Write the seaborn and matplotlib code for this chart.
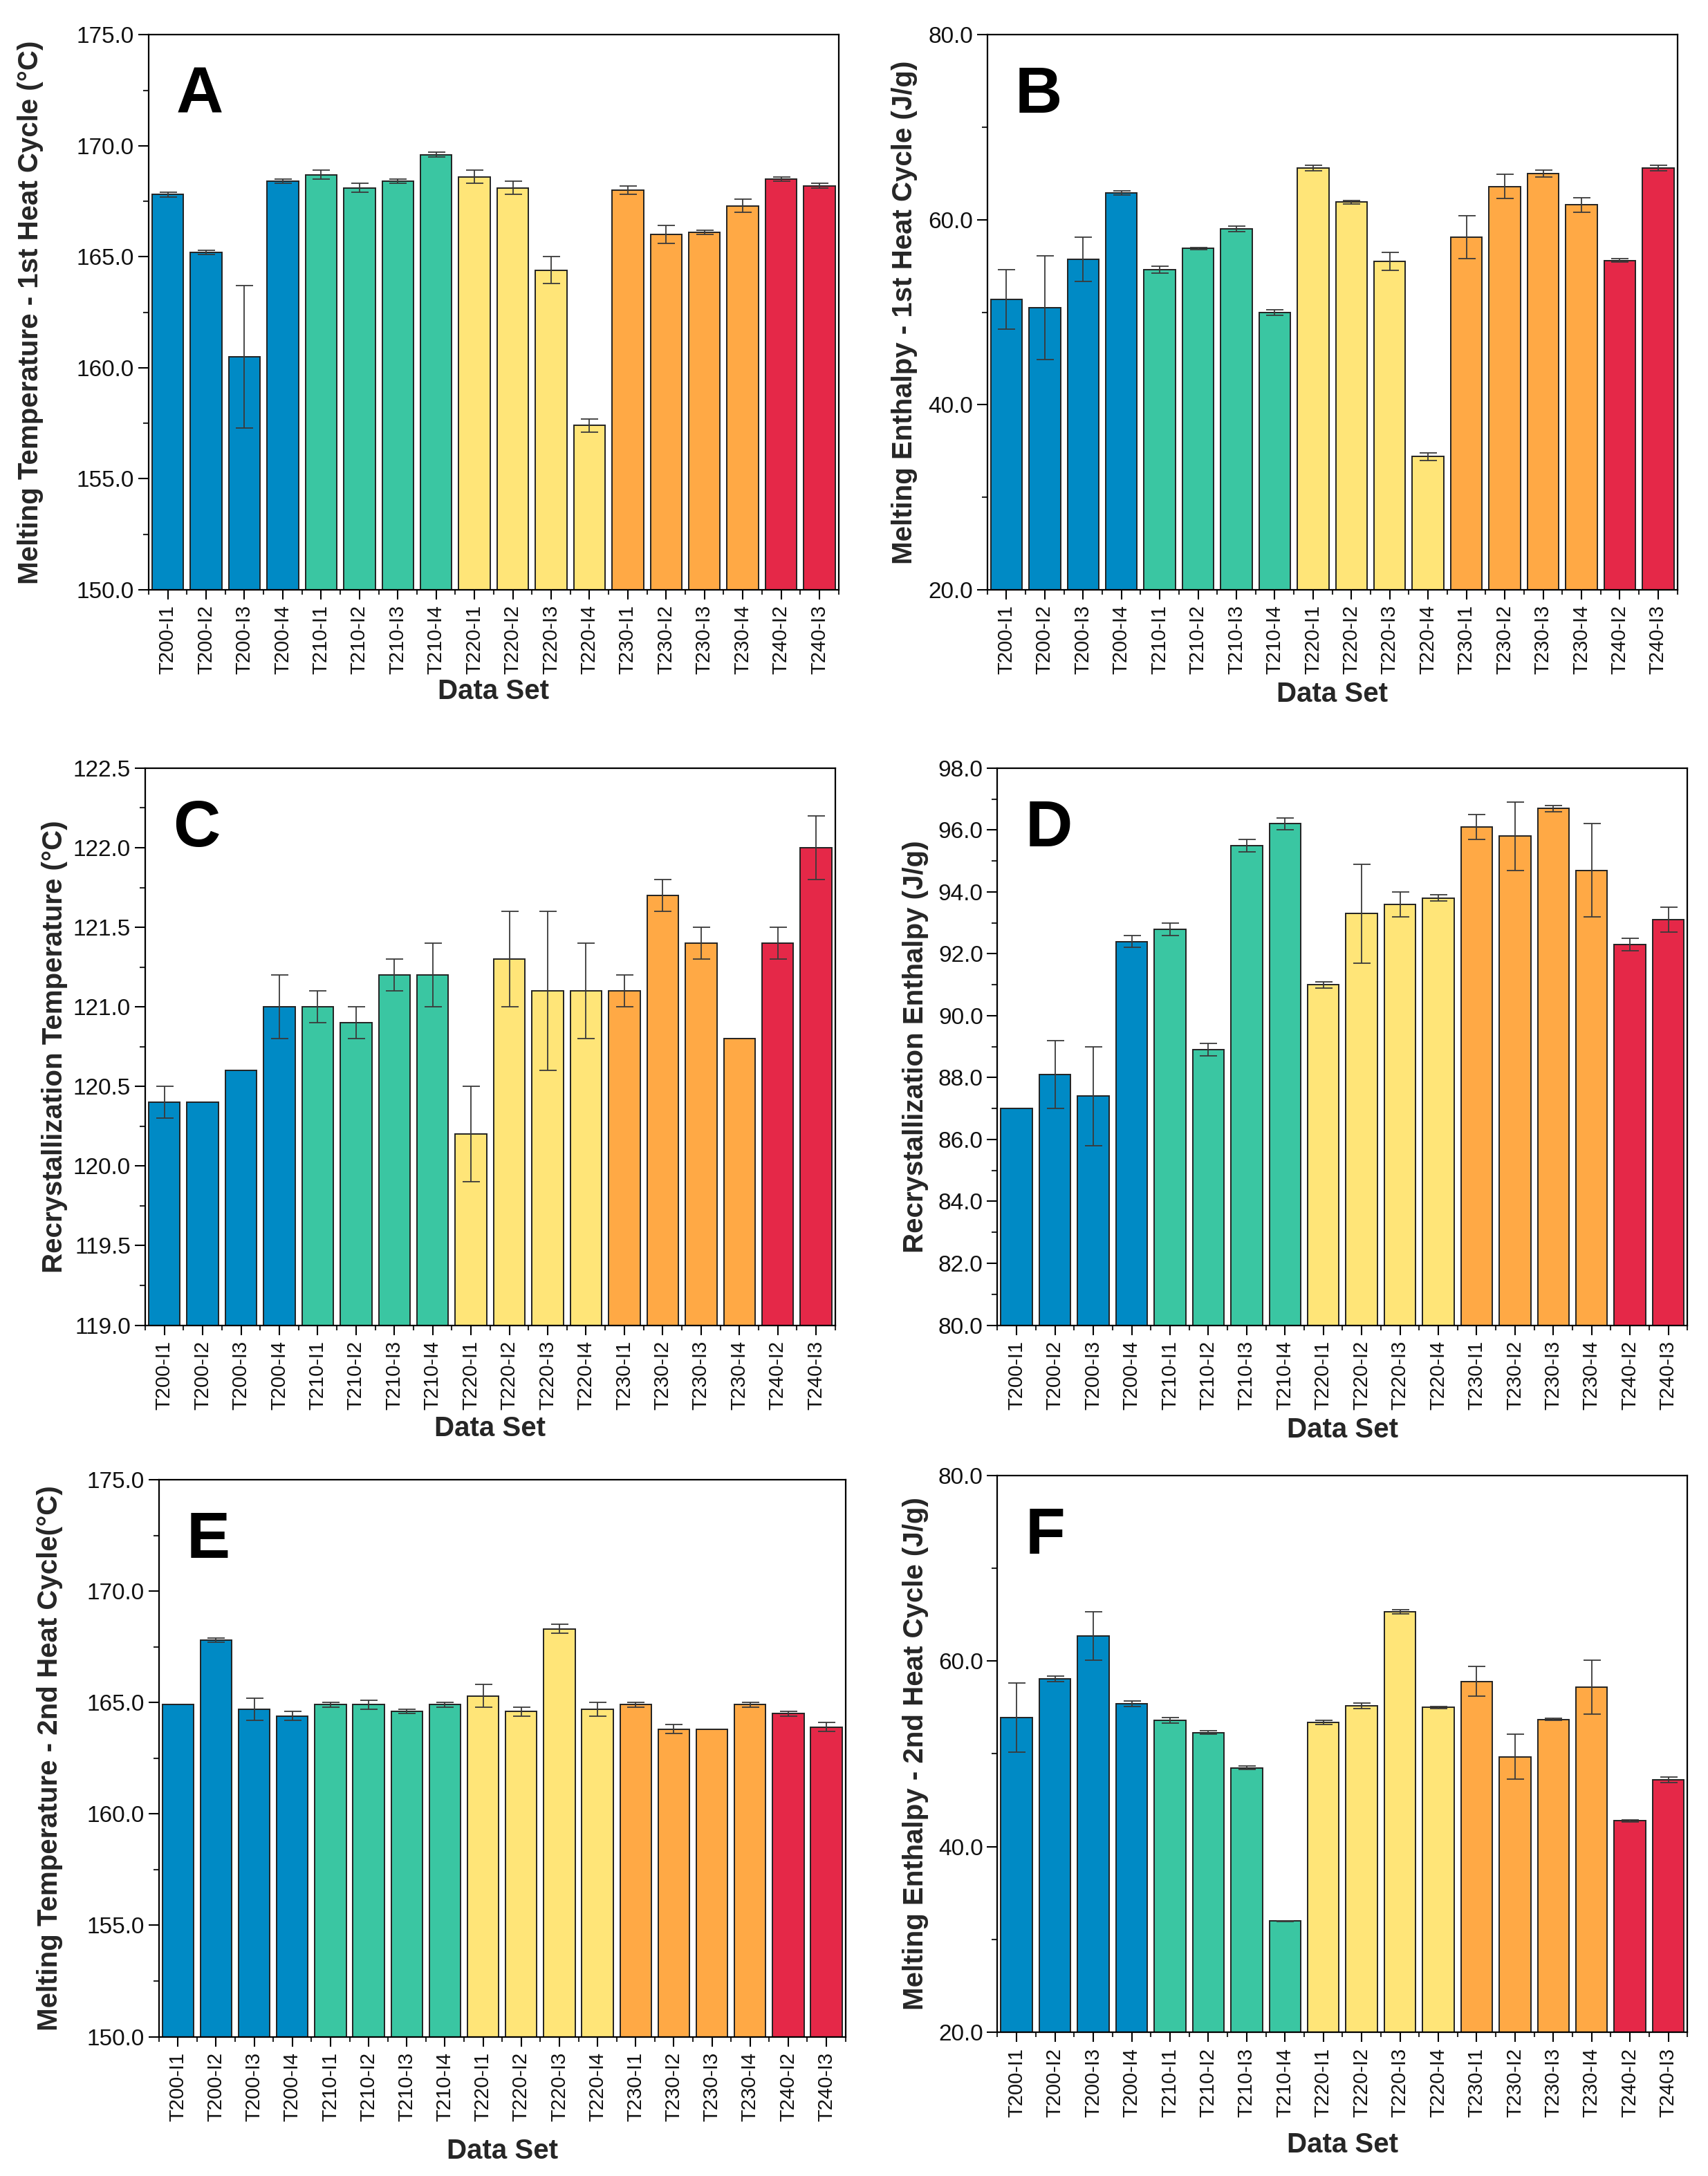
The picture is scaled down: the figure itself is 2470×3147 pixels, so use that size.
import numpy as np
import pandas as pd
import matplotlib
matplotlib.use("Agg")
import matplotlib.pyplot as plt
from matplotlib.ticker import MultipleLocator, FormatStrFormatter
import seaborn as sns

samples = ["T200-I1", "T200-I2", "T200-I3", "T200-I4",
           "T210-I1", "T210-I2", "T210-I3", "T210-I4",
           "T220-I1", "T220-I2", "T220-I3", "T220-I4",
           "T230-I1", "T230-I2", "T230-I3", "T230-I4",
           "T240-I2", "T240-I3"]
groups = [s.split("-")[0] for s in samples]

tm1 = [167.8, 165.2, 160.5, 168.4, 168.7, 168.1, 168.4, 169.6, 168.6, 168.1,
       164.4, 157.4, 168.0, 166.0, 166.1, 167.3, 168.5, 168.2]
tm1_err = [0.1, 0.1, 3.2, 0.1, 0.2, 0.2, 0.1, 0.1, 0.3, 0.3,
           0.6, 0.3, 0.2, 0.4, 0.1, 0.3, 0.1, 0.1]

hm1 = [51.4, 50.5, 55.7, 62.9, 54.6, 56.9, 59.0, 50.0, 65.6, 61.9,
       55.5, 34.4, 58.1, 63.6, 65.0, 61.6, 55.6, 65.6]
hm1_err = [3.2, 5.6, 2.4, 0.2, 0.4, 0.1, 0.3, 0.3, 0.3, 0.2,
           1.0, 0.4, 2.3, 1.3, 0.4, 0.8, 0.2, 0.3]

tc = [120.4, 120.4, 120.6, 121.0, 121.0, 120.9, 121.2, 121.2, 120.2, 121.3,
      121.1, 121.1, 121.1, 121.7, 121.4, 120.8, 121.4, 122.0]
tc_err = [0.1, 0.0, 0.0, 0.2, 0.1, 0.1, 0.1, 0.2, 0.3, 0.3,
          0.5, 0.3, 0.1, 0.1, 0.1, 0.0, 0.1, 0.2]

hc = [87.0, 88.1, 87.4, 92.4, 92.8, 88.9, 95.5, 96.2, 91.0, 93.3,
      93.6, 93.8, 96.1, 95.8, 96.7, 94.7, 92.3, 93.1]
hc_err = [0.0, 1.1, 1.6, 0.2, 0.2, 0.2, 0.2, 0.2, 0.1, 1.6,
          0.4, 0.1, 0.4, 1.1, 0.1, 1.5, 0.2, 0.4]

tm2 = [164.9, 167.8, 164.7, 164.4, 164.9, 164.9, 164.6, 164.9, 165.3, 164.6,
       168.3, 164.7, 164.9, 163.8, 163.8, 164.9, 164.5, 163.9]
tm2_err = [0.0, 0.1, 0.5, 0.2, 0.1, 0.2, 0.1, 0.1, 0.5, 0.2,
           0.2, 0.3, 0.1, 0.2, 0.0, 0.1, 0.1, 0.2]

hm2 = [53.9, 58.1, 62.7, 55.4, 53.6, 52.3, 48.5, 32.0, 53.4, 55.2,
       65.3, 55.0, 57.8, 49.7, 53.7, 57.2, 42.8, 47.2]
hm2_err = [3.7, 0.3, 2.6, 0.3, 0.3, 0.2, 0.2, 0.05, 0.2, 0.3,
           0.2, 0.1, 1.6, 2.4, 0.1, 2.9, 0.1, 0.3]

palette = {"T200": "#008AC5", "T210": "#3AC6A2", "T220": "#FFE578",
           "T230": "#FFA945", "T240": "#E52848"}

panels = [
    dict(letter="A", vals=tm1, errs=tm1_err, ylim=(150, 175), major=5, minor=2.5,
         ylabel="Melting Temperature - 1st Heat Cycle (\u00b0C)",
         rect=[0.087, 0.729, 0.404, 0.255], ylx=-0.152, xly=-0.160),
    dict(letter="B", vals=hm1, errs=hm1_err, ylim=(20, 80), major=20, minor=10,
         ylabel="Melting Enthalpy - 1st Heat Cycle (J/g)",
         rect=[0.578, 0.729, 0.404, 0.255], ylx=-0.101, xly=-0.165),
    dict(letter="C", vals=tc, errs=tc_err, ylim=(119, 122.5), major=0.5, minor=0.25,
         ylabel="Recrystallization Temperature (\u00b0C)",
         rect=[0.085, 0.391, 0.404, 0.256], ylx=-0.112, xly=-0.162),
    dict(letter="D", vals=hc, errs=hc_err, ylim=(80, 98), major=2, minor=1,
         ylabel="Recrystallization Enthalpy (J/g)",
         rect=[0.584, 0.391, 0.404, 0.256], ylx=-0.100, xly=-0.165),
    dict(letter="E", vals=tm2, errs=tm2_err, ylim=(150, 175), major=5, minor=2.5,
         ylabel="Melting Temperature - 2nd Heat Cycle(\u00b0C)",
         rect=[0.093, 0.064, 0.402, 0.256], ylx=-0.140, xly=-0.182),
    dict(letter="F", vals=hm2, errs=hm2_err, ylim=(20, 80), major=20, minor=10,
         ylabel="Melting Enthalpy - 2nd Heat Cycle (J/g)",
         rect=[0.584, 0.066, 0.404, 0.256], ylx=-0.100, xly=-0.178),
]

sns.set_theme(style="white")
plt.rcParams["font.family"] = ["Liberation Sans", "DejaVu Sans"]

fig = plt.figure(figsize=(24.7, 31.47), dpi=100)
fig.patch.set_facecolor("white")

n = len(samples)
for p in panels:
    ax = fig.add_axes(p["rect"])
    df = pd.DataFrame({"sample": samples, "group": groups, "value": p["vals"]})
    sns.barplot(data=df, x="sample", y="value", hue="group", palette=palette,
                dodge=False, width=0.82, edgecolor="#222222", linewidth=1.4,
                saturation=1, errorbar=None, legend=False, ax=ax, zorder=2)
    err = np.array(p["errs"])
    vals = np.array(p["vals"])
    mask = err > 0
    ax.errorbar(np.arange(n)[mask], vals[mask], yerr=err[mask], fmt="none",
                ecolor="#3a3a3a", elinewidth=1.3, capsize=9, capthick=1.3, zorder=3)
    ax.set_xlim(-0.5, n - 0.5)
    ax.set_ylim(*p["ylim"])
    ax.yaxis.set_major_locator(MultipleLocator(p["major"]))
    ax.yaxis.set_minor_locator(MultipleLocator(p["minor"]))
    ax.yaxis.set_major_formatter(FormatStrFormatter("%.1f"))
    ax.set_xticks(np.arange(n))
    ax.set_xticks(np.arange(-0.5, n, 1.0), minor=True)
    ax.set_xticklabels(samples, rotation=90, fontsize=21)
    ax.tick_params(axis="y", which="major", direction="out", length=11, width=1.5,
                   labelsize=24, left=True, color="black", labelcolor="#111111", pad=4)
    ax.tick_params(axis="y", which="minor", direction="out", length=6, width=1.5, left=True)
    ax.tick_params(axis="x", which="major", direction="out", length=10, width=1.5,
                   bottom=True, color="black", labelcolor="#111111", pad=6)
    ax.tick_params(axis="x", which="minor", direction="out", length=5, width=1.5, bottom=True)
    for s in ax.spines.values():
        s.set_visible(True)
        s.set_color("black")
        s.set_linewidth(1.6)
    ax.set_ylabel(p["ylabel"], fontsize=29, fontweight="bold")
    ax.set_xlabel("Data Set", fontsize=29, fontweight="bold")
    ax.yaxis.set_label_coords(p["ylx"], 0.5)
    ax.xaxis.set_label_coords(0.5, p["xly"])
    ax.xaxis.label.set_va("top")
    ax.text(0.04, 0.945, p["letter"], transform=ax.transAxes, fontsize=68,
            fontweight="bold", ha="left", va="top", color="black")
    ax.set_facecolor("white")
    ax.grid(False)

fig.savefig("out.png", dpi=100, facecolor="white")
